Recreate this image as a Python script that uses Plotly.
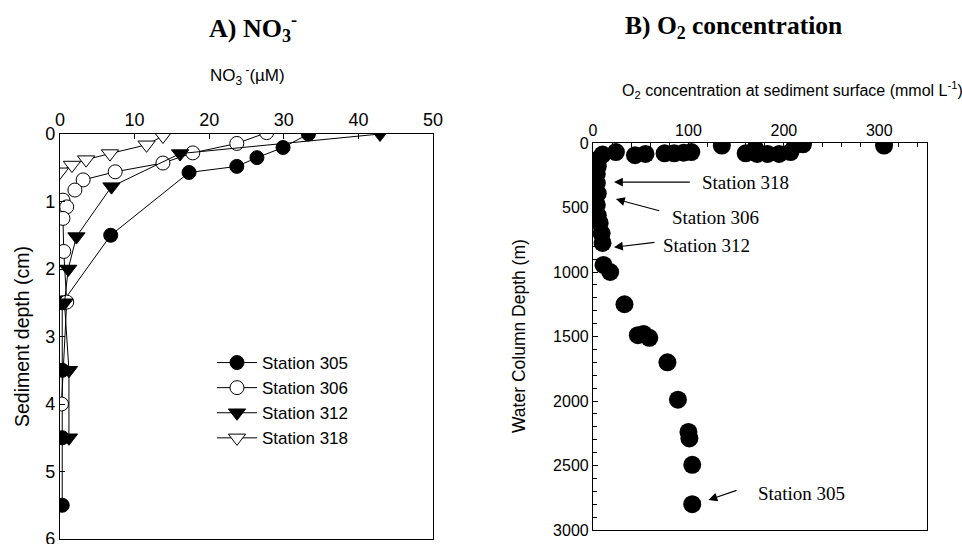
import plotly.graph_objects as go

# ---------------- Panel A data (NO3- profiles) ----------------
st305_no3 = [33.3, 29.9, 26.4, 23.7, 17.3, 6.8, 0.3, 0.3, 0.3, 0.3]
st305_depth = [0.0, 0.2, 0.35, 0.48, 0.57, 1.5, 2.5, 3.5, 4.5, 5.5]

st306_no3 = [27.7, 23.7, 17.8, 13.8, 7.4, 3.1, 2.0, 0.4, 0.9, 0.4, 0.5, 0.9, 0.2]
st306_depth = [-0.02, 0.14, 0.28, 0.43, 0.56, 0.68, 0.83, 0.98, 1.08, 1.25, 1.74, 2.49, 4.0]

st312_no3 = [42.9, 16.1, 6.9, 2.2, 1.1, 0.6, 1.2, 1.2]
st312_depth = [0.0, 0.29, 0.78, 1.52, 2.0, 2.5, 3.5, 4.5]

st318_no3 = [13.8, 11.6, 6.7, 3.5, 1.6, 0.0]
st318_depth = [0.03, 0.16, 0.29, 0.38, 0.46, 0.56]

# ---------------- Panel B data (O2 vs water depth) ----------------
o2_conc = [135, 212, 220, 305, 170,
           24, 44, 55, 75, 85, 95, 103, 160, 172, 183, 195, 207,
           10, 5, 5, 4, 4, 5, 4, 5, 7, 9, 10, 11, 18, 33, 47, 53, 59,
           78, 89, 100, 101, 104, 104]
water_depth = [20, 15, 10, 20, 45,
               70, 95, 85, 80, 80, 75, 70, 80, 85, 85, 85, 70,
               90, 130, 180, 240, 310, 390, 480, 560, 620, 700, 775, 945, 1000, 1250, 1490, 1480, 1510,
               1700, 1990, 2240, 2290, 2495, 2800]

SANS = "Liberation Sans, Arial, sans-serif"
SERIF = "Liberation Serif, Times New Roman, serif"

W, H = 962, 544


def fx(p):
    return p / W


def fy(p):
    return 1 - p / H


fig = go.Figure()

line_style = dict(color="black", width=1)
fig.add_trace(go.Scatter(x=st305_no3, y=st305_depth, mode="lines+markers", name="Station 305",
                         line=line_style,
                         marker=dict(symbol="circle", size=14, color="black", line=dict(color="black", width=1)),
                         xaxis="x", yaxis="y"))
fig.add_trace(go.Scatter(x=st306_no3, y=st306_depth, mode="lines+markers", name="Station 306",
                         line=dict(color="black", width=1),
                         marker=dict(symbol="circle", size=14, color="white", line=dict(color="black", width=1)),
                         xaxis="x", yaxis="y"))
fig.add_trace(go.Scatter(x=st312_no3, y=st312_depth, mode="lines+markers", name="Station 312",
                         line=line_style,
                         marker=dict(symbol="triangle-down", size=15, color="black", line=dict(color="black", width=1)),
                         xaxis="x", yaxis="y"))
fig.add_trace(go.Scatter(x=st318_no3, y=st318_depth, mode="lines+markers", name="Station 318",
                         line=line_style,
                         marker=dict(symbol="triangle-down", size=15, color="white", line=dict(color="black", width=1)),
                         xaxis="x", yaxis="y"))

fig.add_trace(go.Scatter(x=o2_conc, y=water_depth, mode="markers", showlegend=False,
                         marker=dict(symbol="circle", size=18, color="black"),
                         xaxis="x2", yaxis="y2"))

axis_common = dict(showline=True, linecolor="black", linewidth=1.2, mirror=True, automargin=False,
                   ticks="inside", ticklen=5, tickcolor="black", showgrid=False, zeroline=False,
                   ticklabeloverflow="allow")

left_font = dict(family=SANS, size=18, color="black")
right_font = dict(family=SANS, size=16, color="black")

fig.update_layout(
    width=W, height=H,
    margin=dict(l=0, r=0, t=0, b=0, autoexpand=False),
    paper_bgcolor="white", plot_bgcolor="white",
    showlegend=True,
    legend=dict(x=212 / W, y=fy(345), xanchor="left", yanchor="top",
                font=dict(family=SANS, size=17, color="black"), itemwidth=40,
                bgcolor="rgba(0,0,0,0)", tracegroupgap=0, itemsizing="trace"),
    xaxis=dict(domain=[fx(60), fx(433)], range=[0, 50], side="top", dtick=10,
               anchor="y", tickfont=left_font, **axis_common),
    yaxis=dict(domain=[fy(539), fy(134)], range=[6, 0], dtick=1,
               anchor="x", tickfont=left_font, **axis_common),
    xaxis2=dict(domain=[fx(593), fx(927)], range=[0, 350], side="top",
                tickvals=[0, 100, 200, 300], anchor="y2", tickfont=right_font,
                minor=dict(dtick=20, ticks="inside", ticklen=4, tickcolor="black"),
                **axis_common),
    yaxis2=dict(domain=[fy(530), fy(143)], range=[3000, 0], dtick=500, anchor="x2",
                tickfont=right_font,
                minor=dict(dtick=100, ticks="inside", ticklen=4, tickcolor="black"),
                **axis_common),
)

annotations = [
    dict(text="<b>A) NO<sub>3</sub><sup>-</sup></b>", x=fx(253), y=fy(28), xref="paper", yref="paper",
         showarrow=False, font=dict(family=SERIF, size=26, color="black"), xanchor="center", yanchor="middle"),
    dict(text="<b>B) O<sub>2</sub> concentration</b>", x=fx(733), y=fy(27), xref="paper", yref="paper",
         showarrow=False, font=dict(family=SERIF, size=25.5, color="black"), xanchor="center", yanchor="middle"),
    dict(text="NO<sub>3</sub><sup> -</sup>(µM)", x=fx(247), y=fy(76), xref="paper", yref="paper",
         showarrow=False, font=dict(family=SANS, size=17, color="black"), xanchor="center", yanchor="middle"),
    dict(text="O<sub>2</sub> concentration at sediment surface (mmol L<sup>-1</sup>)", x=fx(792), y=fy(90),
         xref="paper", yref="paper", showarrow=False, font=dict(family=SANS, size=16, color="black"),
         xanchor="center", yanchor="middle"),
    dict(text="Sediment depth (cm)", x=fx(22), y=fy(337), xref="paper", yref="paper", textangle=-90,
         showarrow=False, font=dict(family=SANS, size=19.5, color="black"), xanchor="center", yanchor="middle"),
    dict(text="Water Column Depth (m)", x=fx(519), y=fy(336), xref="paper", yref="paper", textangle=-90,
         showarrow=False, font=dict(family=SANS, size=17.5, color="black"), xanchor="center", yanchor="middle"),
]

# station labels and arrows in panel B
labels = [("Station 318", 112, 303, 22, 303, 103, 303),
          ("Station 306", 81, 575, 24, 435, 71, 528),
          ("Station 312", 71, 793, 22, 808, 66, 769),
          ("Station 305", 171, 2720, 121, 2767, 152, 2689)]
for txt, tx, ty, hx, hy, axv, ayv in labels:
    annotations.append(dict(text=txt, x=tx, y=ty, xref="x2", yref="y2", showarrow=False,
                            xanchor="left", yanchor="middle",
                            font=dict(family=SERIF, size=19, color="black")))
    annotations.append(dict(text="", x=hx, y=hy, ax=axv, ay=ayv, xref="x2", yref="y2",
                            axref="x2", ayref="y2", showarrow=True, arrowhead=2, arrowsize=1.6,
                            arrowwidth=1.1, arrowcolor="black"))

fig.update_layout(annotations=annotations)

# remove the default page margin so the figure fills the window exactly
fig.write_html("out.html", config={"displayModeBar": False},
               post_script="document.body.style.margin='0';document.body.style.overflow='hidden';")
